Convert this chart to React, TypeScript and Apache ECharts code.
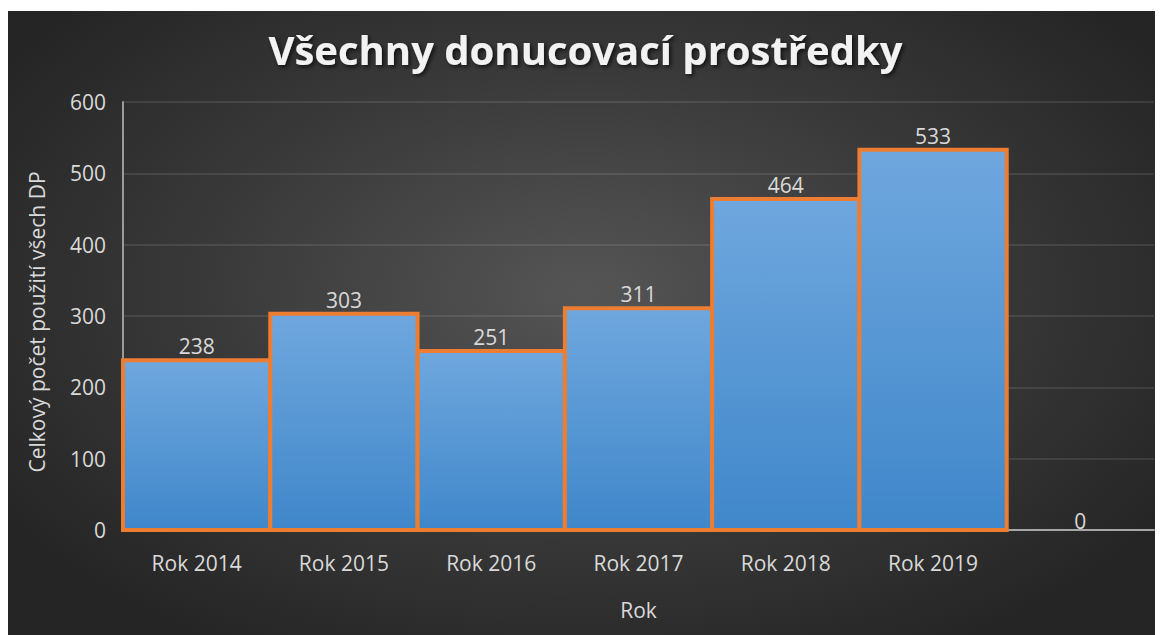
import React, { useEffect, useRef } from "react";
import * as echarts from "echarts";

const categories = ["Rok 2014", "Rok 2015", "Rok 2016", "Rok 2017", "Rok 2018", "Rok 2019", ""];
const values = [238, 303, 251, 311, 464, 533, 0];
const yTicks = { min: 0, max: 600, interval: 100 };

const FONT = "'Open Sans', 'Noto Sans', sans-serif";
const TEXT = "#d9d9d9";

export default function App() {
  const ref = useRef<HTMLDivElement>(null);
  useEffect(() => {
    if (!ref.current) return;
    const chart = echarts.init(ref.current, null, { renderer: "svg" });
    chart.setOption({
      animation: false,
      backgroundColor: "transparent",
      title: {
        text: "Všechny donucovací prostředky",
        left: "center",
        top: 18,
        padding: 0,
        textStyle: {
          color: "#f2f2f2",
          fontFamily: FONT,
          fontWeight: "bold",
          fontSize: 40,
          textShadowColor: "rgba(0,0,0,0.7)",
          textShadowBlur: 4,
          textShadowOffsetX: 2,
          textShadowOffsetY: 2,
        },
      },
      grid: { left: 115, right: 9, top: 91, bottom: 105, containLabel: false },
      xAxis: {
        type: "category",
        data: categories,
        name: "Rok",
        nameLocation: "middle",
        nameGap: 69,
        nameTextStyle: { color: TEXT, fontFamily: FONT, fontSize: 21 },
        axisLine: { show: true, lineStyle: { color: "#a6a6a6", width: 2 } },
        axisTick: { show: false },
        axisLabel: { color: TEXT, fontFamily: FONT, fontSize: 21, margin: 22, interval: 0 },
        splitLine: { show: false },
      },
      yAxis: {
        type: "value",
        min: yTicks.min,
        max: yTicks.max,
        interval: yTicks.interval,
        name: "Celkový počet použití všech DP",
        nameLocation: "middle",
        nameGap: 76,
        nameTextStyle: { color: TEXT, fontFamily: FONT, fontSize: 21, padding: [0, 12, 0, 0] },
        axisLine: { show: true, lineStyle: { color: "#9a9a9a", width: 2 } },
        axisTick: { show: false },
        axisLabel: { color: TEXT, fontFamily: FONT, fontSize: 21, margin: 17 },
        splitLine: { show: true, lineStyle: { color: "rgba(255,255,255,0.13)", width: 1.5 } },
      },
      series: [
        {
          type: "custom",
          data: values.map((v, i) => [i, v]),
          encode: { x: 0, y: 1 },
          renderItem: (params: any, api: any) => {
            const idx = api.value(0);
            const v = api.value(1);
            const top = api.coord([idx, v]);
            const base = api.coord([idx, 0]);
            const w = api.size([1, 0])[0];
            const children: any[] = [];
            if (v > 0) {
              children.push({
                type: "rect",
                shape: { x: top[0] - w / 2, y: top[1], width: w, height: base[1] - top[1] },
                style: {
                  fill: new echarts.graphic.LinearGradient(0, 0, 0, 1, [
                    { offset: 0, color: "#6fa7de" },
                    { offset: 1, color: "#3f87ca" },
                  ]),
                  stroke: "#ed7d31",
                  lineWidth: 4,
                },
              });
            }
            children.push({
              type: "text",
              z2: 10,
              style: {
                text: String(v),
                x: top[0],
                y: top[1] - (v > 0 ? 14 : 9),
                align: "center",
                verticalAlign: "middle",
                fill: TEXT,
                fontFamily: FONT,
                fontSize: 21,
              },
            });
            return { type: "group", children };
          },
        },
      ],
    });
    return () => chart.dispose();
  }, []);
  return (
    <div
      ref={ref}
      style={{
        width: 1155,
        height: 624,
        marginTop: 3,
        background: "radial-gradient(ellipse at 50% 45%, #555555 0%, #3a3a3a 45%, #252525 85%)",
      }}
    />
  );
}
